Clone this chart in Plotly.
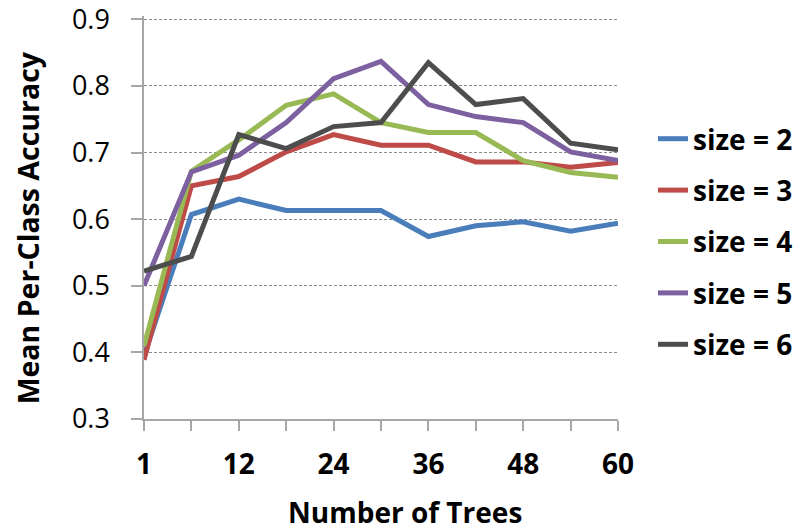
import plotly.graph_objects as go

# Number of trees in the forest (one category per evaluated setting)
n_trees = [1, 6, 12, 18, 24, 30, 36, 42, 48, 54, 60]
tick_labels = ["1", "", "12", "", "24", "", "36", "", "48", "", "60"]

# Accuracy axis ticks
acc_ticks = [0.3, 0.4, 0.5, 0.6, 0.7, 0.8, 0.9]

# Mean per-class accuracy for each tree size
acc_size2 = [0.395, 0.607, 0.630, 0.613, 0.613, 0.613, 0.574, 0.590, 0.596, 0.582, 0.594]
acc_size3 = [0.389, 0.650, 0.664, 0.701, 0.727, 0.711, 0.711, 0.686, 0.686, 0.678, 0.685]
acc_size4 = [0.410, 0.672, 0.719, 0.771, 0.788, 0.745, 0.730, 0.730, 0.688, 0.670, 0.663]
acc_size5 = [0.500, 0.671, 0.696, 0.745, 0.811, 0.837, 0.772, 0.754, 0.745, 0.701, 0.688]
acc_size6 = [0.522, 0.544, 0.727, 0.706, 0.739, 0.745, 0.835, 0.772, 0.781, 0.714, 0.704]

series = [
    ("size = 2", acc_size2, "#4A7EBB"),
    ("size = 3", acc_size3, "#BE4B48"),
    ("size = 4", acc_size4, "#98B954"),
    ("size = 5", acc_size5, "#7D60A0"),
    ("size = 6", acc_size6, "#4D4D4D"),
]

positions = list(range(len(n_trees)))

fig = go.Figure()
for name, values, color in series:
    fig.add_trace(go.Scatter(
        x=positions, y=values, mode="lines", name=name,
        legendgroup=name,
        line=dict(color=color, width=5),
    ))

W, H = 801, 532
L, R, B = 144, 618, 419.3
Y_LO, Y_TOP, Y_HI = 0.3, 0.9, 0.905   # a little headroom so the 0.9 grid line is kept
px_per_unit = 400 / (Y_TOP - Y_LO)
T = B - (Y_HI - Y_LO) * px_per_unit

fig.update_layout(
    width=W, height=H,
    margin=dict(l=L, r=W - R, t=T, b=H - B, pad=0, autoexpand=False),
    paper_bgcolor="white", plot_bgcolor="white",
    font=dict(family="Open Sans", color="black"),
    showlegend=True,
    legend=dict(
        xref="container", yref="container",
        x=653 / W, y=1 - 114 / H, xanchor="left", yanchor="top",
        font=dict(family="Open Sans", size=28, color="black", weight="bold"),
        traceorder="grouped", tracegroupgap=12,
        bgcolor="rgba(0,0,0,0)", borderwidth=0,
    ),
    xaxis=dict(
        range=[0, len(n_trees) - 1], automargin=False,
        tickmode="array", tickvals=positions, ticktext=tick_labels,
        ticks="outside", ticklen=10, tickcolor="#A6A6A6", tickwidth=1.5,
        showline=True, linecolor="#A6A6A6", linewidth=1.5,
        showgrid=False, zeroline=False,
        tickfont=dict(family="Open Sans", size=28, color="black", weight="bold"),
        ticklabelstandoff=10,
    ),
    yaxis=dict(
        range=[Y_LO, Y_HI], automargin=False,
        tickmode="array", tickvals=acc_ticks,
        ticktext=[f"{v:.1f}" for v in acc_ticks],
        ticks="outside", ticklen=11, tickcolor="#A6A6A6", tickwidth=1.5,
        showline=True, linecolor="#A6A6A6", linewidth=1.5,
        showgrid=True, gridcolor="#8C8C8C", gridwidth=1, griddash="3px,2px",
        zeroline=False,
        tickfont=dict(family="Open Sans", size=27, color="black"),
        ticklabelstandoff=16, ticklabeloverflow="allow",
    ),
    annotations=[
        dict(text="<b>Number of Trees</b>", xref="paper", yref="paper",
             x=(405 - L) / (R - L), y=(B - 512) / (B - T),
             xanchor="center", yanchor="middle", showarrow=False,
             font=dict(family="Open Sans", size=28, color="black")),
        dict(text="<b>Mean Per-Class Accuracy</b>", xref="paper", yref="paper",
             x=(27.5 - L) / (R - L), y=(B - 228) / (B - T),
             xanchor="center", yanchor="middle", showarrow=False, textangle=-90,
             font=dict(family="Open Sans", size=28.5, color="black")),
    ],
)

fig.write_html("out.html")
